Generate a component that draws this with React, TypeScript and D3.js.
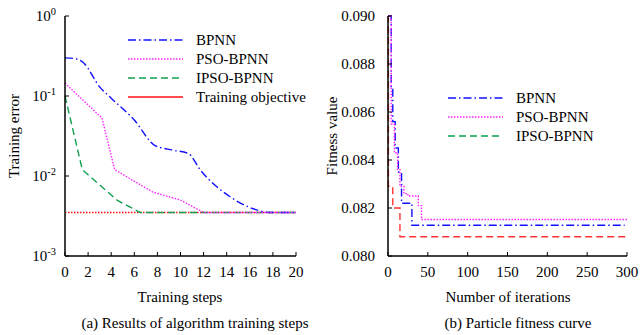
import React from "react";
import * as d3 from "d3";

// ---------- Data: (a) training error ----------
const stepTicksA = [0, 2, 4, 6, 8, 10, 12, 14, 16, 18, 20];
const errTickExps = [0, -1, -2, -3];
const objectiveValue = 0.0035;
const bpnnErr: [number, number][] = [
  [0, 0.3], [1, 0.29], [1.6, 0.26], [3, 0.13], [4, 0.094], [6, 0.05], [7.8, 0.024],
  [9.4, 0.021], [10.7, 0.019], [11.7, 0.012], [14.3, 0.0055], [16.3, 0.0039],
  [17.7, 0.0035], [20, 0.0035],
];
const psoErr: [number, number][] = [
  [0, 0.145], [3.2, 0.053], [4.3, 0.012], [7.6, 0.0063], [10, 0.005], [12, 0.0035], [20, 0.0035],
];
const ipsoErr: [number, number][] = [
  [0, 0.1], [1.5, 0.012], [4.5, 0.005], [6.5, 0.0035], [20, 0.0035],
];

// ---------- Data: (b) fitness ----------
const iterTicks = [0, 50, 100, 150, 200, 250, 300];
const fitTicks = [0.08, 0.082, 0.084, 0.086, 0.088, 0.09];
const bpnnFit: [number, number][] = [
  [0, 0.09], [4, 0.087], [6, 0.0856], [9, 0.0845], [13, 0.0835], [17, 0.0822],
  [30, 0.08128], [297, 0.08128],
];
const psoFit: [number, number][] = [
  [0, 0.09], [4, 0.0855], [8, 0.0843], [12, 0.0836], [15, 0.0829], [20, 0.0826],
  [25, 0.0825], [38, 0.0821], [42, 0.08152], [300, 0.08152],
];
const ipsoFit: [number, number][] = [
  [0, 0.09], [0.5, 0.0829], [6, 0.082], [15, 0.0808], [300, 0.0808],
];

const FONT = "'Liberation Serif', 'Times New Roman', serif";
const BLUE = "#1010ff";
const MAGENTA = "#ff22ff";
const GREEN = "#10a050";
const RED = "#ff1010";
const RED2 = "#ff3333";

const DASHDOT = "8,3,1.5,3";
const DOT = "1.5,1.5";
const DASH = "7,4";

export default function App() {
  // Panel A scales
  const xA = d3.scaleLinear().domain([0, 20]).range([65, 296]);
  const yA = d3.scaleLog().domain([1e-3, 1]).range([256, 16]);
  const lineA = d3.line<[number, number]>().x((d) => xA(d[0])).y((d) => yA(d[1]));
  const lineAsmooth = d3
    .line<[number, number]>()
    .x((d) => xA(d[0]))
    .y((d) => yA(d[1]))
    .curve(d3.curveMonotoneX);

  // Panel B scales
  const xB = d3.scaleLinear().domain([0, 300]).range([388, 627]);
  const yB = d3.scaleLinear().domain([0.08, 0.09]).range([256, 16]);
  const lineB = d3
    .line<[number, number]>()
    .x((d) => xB(d[0]))
    .y((d) => yB(d[1]))
    .curve(d3.curveStepAfter);

  const legendA = [
    { label: "BPNN", color: BLUE, dash: DASHDOT },
    { label: "PSO-BPNN", color: MAGENTA, dash: DOT },
    { label: "IPSO-BPNN", color: GREEN, dash: DASH },
    { label: "Training objective", color: RED, dash: "none" },
  ];
  const legendB = [
    { label: "BPNN", color: BLUE, dash: DASHDOT },
    { label: "PSO-BPNN", color: MAGENTA, dash: DOT },
    { label: "IPSO-BPNN", color: GREEN, dash: DASH },
  ];

  return (
    <svg
      width={640}
      height={335}
      style={{ position: "absolute", left: 0, top: 0, background: "#fff" }}
      fontFamily={FONT}
      fontSize={15}
    >
      <rect x={0} y={0} width={640} height={335} fill="#fff" />

      {/* ===== Panel A ===== */}
      <g>
        <line
          x1={xA(0)}
          x2={xA(20)}
          y1={yA(objectiveValue)}
          y2={yA(objectiveValue)}
          stroke={RED}
          strokeWidth={1.4}
          strokeDasharray={DOT}
        />
        <path d={lineA(ipsoErr) || ""} fill="none" stroke={GREEN} strokeWidth={1.4} strokeDasharray={DASH} />
        <path d={lineAsmooth(bpnnErr) || ""} fill="none" stroke={BLUE} strokeWidth={1.4} strokeDasharray={DASHDOT} />
        <path d={lineA(psoErr) || ""} fill="none" stroke={MAGENTA} strokeWidth={1.4} strokeDasharray={DOT} />

        <line x1={65} x2={65} y1={16} y2={256} stroke="#000" strokeWidth={1.5} />
        <line x1={65} x2={296} y1={256} y2={256} stroke="#000" strokeWidth={1.5} />
        {stepTicksA.map((t) => (
          <g key={"xa" + t}>
            <line x1={xA(t)} x2={xA(t)} y1={256} y2={252} stroke="#000" strokeWidth={1} />
            <text x={xA(t)} y={277} textAnchor="middle">
              {t}
            </text>
          </g>
        ))}
        {errTickExps.map((e) => (
          <g key={"ya" + e}>
            <line x1={65} x2={69} y1={yA(Math.pow(10, e))} y2={yA(Math.pow(10, e))} stroke="#000" strokeWidth={1} />
            <text x={56} y={yA(Math.pow(10, e)) + 5} textAnchor="end">
              10
              <tspan dy={-6} fontSize={10.5}>
                {e}
              </tspan>
            </text>
          </g>
        ))}
        <text x={180} y={302} textAnchor="middle">
          Training steps
        </text>
        <text transform="translate(19,136) rotate(-90)" textAnchor="middle">
          Training error
        </text>
        <text x={195} y={328} textAnchor="middle">
          (a) Results of algorithm training steps
        </text>

        {legendA.map((l, i) => {
          const y = 40 + i * 19;
          return (
            <g key={"la" + l.label}>
              <line x1={128} x2={183} y1={y} y2={y} stroke={l.color} strokeWidth={1.4} strokeDasharray={l.dash} />
              <text x={196} y={y + 5}>
                {l.label}
              </text>
            </g>
          );
        })}
      </g>

      {/* ===== Panel B ===== */}
      <g>
        <path d={lineB(ipsoFit) || ""} fill="none" stroke={RED2} strokeWidth={1.4} strokeDasharray={DASH} />
        <path d={lineB(bpnnFit) || ""} fill="none" stroke={BLUE} strokeWidth={1.4} strokeDasharray={DASHDOT} />
        <path d={lineB(psoFit) || ""} fill="none" stroke={MAGENTA} strokeWidth={1.4} strokeDasharray={DOT} />

        <line x1={388} x2={388} y1={16} y2={256} stroke="#000" strokeWidth={1.5} />
        <line x1={388} x2={627} y1={256} y2={256} stroke="#000" strokeWidth={1.5} />
        {iterTicks.map((t) => (
          <g key={"xb" + t}>
            <line x1={xB(t)} x2={xB(t)} y1={256} y2={252} stroke="#000" strokeWidth={1} />
            <text x={xB(t)} y={277} textAnchor="middle">
              {t}
            </text>
          </g>
        ))}
        {fitTicks.map((t) => (
          <g key={"yb" + t}>
            <line x1={388} x2={392} y1={yB(t)} y2={yB(t)} stroke="#000" strokeWidth={1} />
            <text x={375} y={yB(t) + 5} textAnchor="end">
              {t.toFixed(3)}
            </text>
          </g>
        ))}
        <text x={508} y={302} textAnchor="middle">
          Number of iterations
        </text>
        <text transform="translate(337,136) rotate(-90)" textAnchor="middle">
          Fitness value
        </text>
        <text x={518} y={328} textAnchor="middle">
          (b) Particle fitness curve
        </text>

        {legendB.map((l, i) => {
          const y = 98 + i * 19;
          return (
            <g key={"lb" + l.label}>
              <line x1={448} x2={503} y1={y} y2={y} stroke={l.color} strokeWidth={1.4} strokeDasharray={l.dash} />
              <text x={516} y={y + 5}>
                {l.label}
              </text>
            </g>
          );
        })}
      </g>
    </svg>
  );
}
